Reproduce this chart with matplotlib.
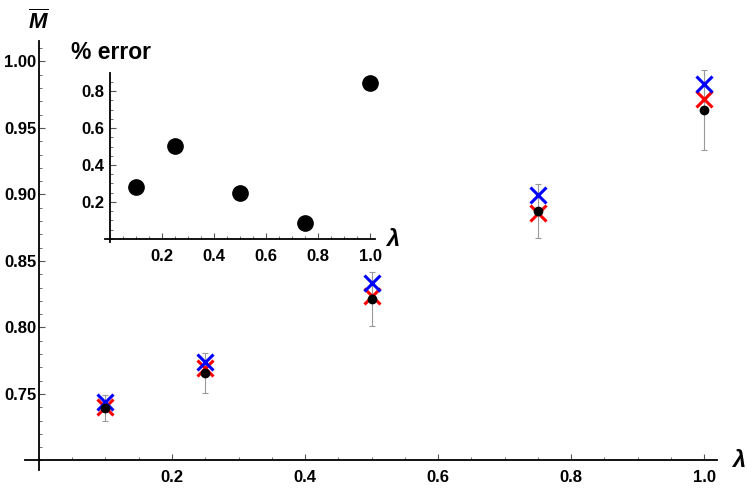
import matplotlib
matplotlib.use('Agg')
import matplotlib.pyplot as plt
from matplotlib.ticker import MultipleLocator, FormatStrFormatter

plt.rcParams['font.family'] = 'Liberation Sans'
plt.rcParams['font.weight'] = 'bold'
plt.rcParams['mathtext.fontset'] = 'custom'
plt.rcParams['mathtext.it'] = 'Liberation Sans:bold:italic'
plt.rcParams['mathtext.rm'] = 'Liberation Sans:bold'

# main data
lam = [0.1, 0.25, 0.5, 0.75, 1.0]
m_sim = [0.7395, 0.7658, 0.8214, 0.8876, 0.9635]
m_err = [0.010, 0.015, 0.020, 0.020, 0.030]
m_red = [0.7405, 0.7695, 0.8237, 0.8862, 0.9718]
m_blue = [0.7440, 0.7740, 0.8333, 0.8996, 0.9830]

# inset data
pct_err = [0.279, 0.504, 0.247, 0.085, 0.842]

fig = plt.figure(figsize=(7.47, 4.88), dpi=100)
ax = fig.add_axes([0.0335, 0.0373, 0.9268, 0.8777])


def mma_axes(a, x0, y0):
    for s in ['top', 'right']:
        a.spines[s].set_visible(False)
    a.spines['left'].set_position(('data', x0))
    a.spines['bottom'].set_position(('data', y0))
    a.spines['left'].set_linewidth(1.3)
    a.spines['bottom'].set_linewidth(1.3)
    a.tick_params(which='both', direction='in', color='#555555')
    a.tick_params(which='major', length=4.5, width=0.8)
    a.tick_params(which='minor', length=2.5, width=0.6)


mma_axes(ax, 0, 0.70)
ax.set_xlim(-0.021, 1.02)
ax.set_ylim(0.693, 1.015)
ax.xaxis.set_minor_locator(MultipleLocator(0.05))
ax.yaxis.set_minor_locator(MultipleLocator(0.01))
ax.set_xticks([0.2, 0.4, 0.6, 0.8, 1.0])
ax.set_yticks([0.75, 0.80, 0.85, 0.90, 0.95, 1.00])
ax.xaxis.set_major_formatter(FormatStrFormatter('%.1f'))
ax.yaxis.set_major_formatter(FormatStrFormatter('%.2f'))
ax.tick_params(axis='x', labelsize=12, pad=7)
ax.tick_params(axis='y', labelsize=12, pad=2)

ax.errorbar(lam, m_sim, yerr=m_err, fmt='none', ecolor='#999999',
            elinewidth=0.8, capsize=2.2, capthick=0.8, zorder=2)
ax.plot(lam, m_red, 'x', color='red', ms=12, mew=2.2, zorder=3)
ax.plot(lam, m_blue, 'x', color='blue', ms=12, mew=2.2, zorder=4)
ax.plot(lam, m_sim, 'o', color='black', ms=6, zorder=5)

fig.text(0.052, 0.955, r'$\overline{M}$', fontsize=16, ha='center', va='center')
fig.text(0.989, 0.057, 'λ', fontsize=17, style='italic', ha='center', va='center')

# inset
ins = fig.add_axes([0.1403, 0.5047, 0.362, 0.345])
mma_axes(ins, 0, 0)
ins.set_xlim(-0.02, 1.02)
ins.set_ylim(-0.015, 0.896)
ins.xaxis.set_minor_locator(MultipleLocator(0.05))
ins.yaxis.set_minor_locator(MultipleLocator(0.05))
ins.set_xticks([0.2, 0.4, 0.6, 0.8, 1.0])
ins.set_yticks([0.2, 0.4, 0.6, 0.8])
ins.xaxis.set_major_formatter(FormatStrFormatter('%.1f'))
ins.yaxis.set_major_formatter(FormatStrFormatter('%.1f'))
ins.tick_params(axis='x', labelsize=12, pad=7)
ins.tick_params(axis='y', labelsize=12, pad=4)
ins.patch.set_alpha(0)
ins.plot(lam, pct_err, 'o', color='black', ms=11, clip_on=False)

fig.text(0.148, 0.893, '% error', fontsize=16.5, ha='center', va='center')
fig.text(0.526, 0.51, 'λ', fontsize=17, style='italic', ha='center', va='center')

fig.savefig('out.png', dpi=100)
